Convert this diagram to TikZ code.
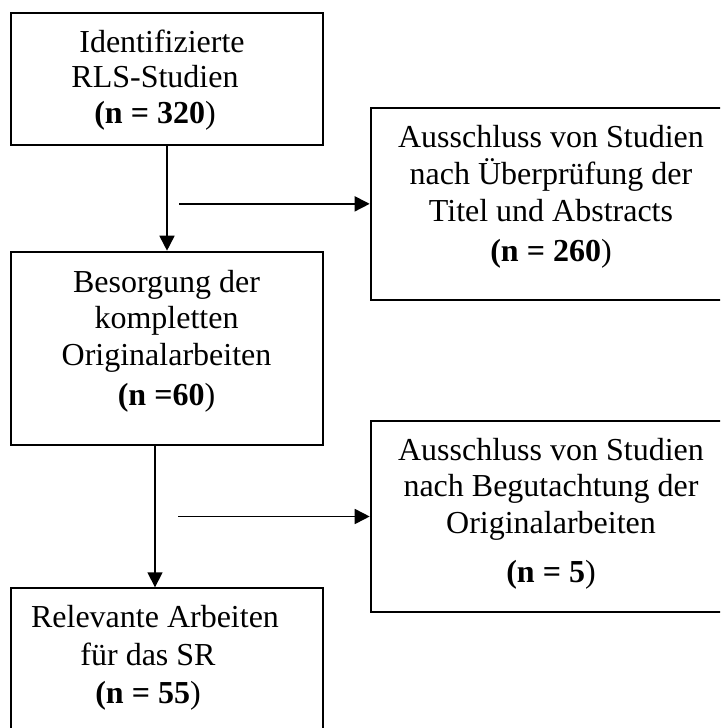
\documentclass[tikz,border=0pt]{standalone}
\usepackage{fontspec}
\setmainfont{Liberation Serif}
\usetikzlibrary{arrows.meta}
\begin{document}
\begin{tikzpicture}[x=1pt,y=-1pt,
  box/.style={draw=black,line width=2pt,rectangle,inner sep=0pt},
  txt/.style={align=center,anchor=base,inner sep=0pt},
  arr/.style={draw=black,line width=1.7pt,-{Triangle[length=15pt,width=15pt]}}]
\useasboundingbox (0,0) rectangle (720,728);
\clip (0,0) rectangle (720,728);
% boxes
\node[box,minimum width=312pt,minimum height=132.3pt] (b1) at (167,78.85) {};
\node[box,minimum width=360.3pt,minimum height=192.3pt] (b2) at (550.85,203.85) {};
\node[box,minimum width=312pt,minimum height=193.3pt] (b3) at (167,348.35) {};
\node[box,minimum width=360.3pt,minimum height=191pt] (b4) at (550.85,516.5) {};
\node[box,minimum width=312pt,minimum height=160pt] (b5) at (167,668.3) {};
% texts
\node[txt,font=\fontsize{32}{35.5}\selectfont] (t1) at (155,123.3)
  {Identifizierte\hspace*{-14pt}\\RLS-Studien\\\textbf{(n = 320}) };
\node[txt,font=\fontsize{32}{37}\selectfont] (t2) at (551,261.7)
  {Ausschluss von Studien\\nach Überprüfung der\\Titel und Abstracts\\[3pt]\textbf{(n = 260})};
\node[txt,font=\fontsize{32}{36.5}\selectfont] (t3) at (166.5,405.7)
  {Besorgung der\\kompletten\\Originalarbeiten\\[4pt]\textbf{(n =60})};
\node[txt,font=\fontsize{32}{36.5}\selectfont] (t4) at (551,582.7)
  {Ausschluss von Studien\\nach Begutachtung der\\Originalarbeiten\\[13pt]\textbf{(n = 5})};
\node[txt,font=\fontsize{32}{38}\selectfont] (t5) at (148,703)
  {Relevante Arbeiten\hspace*{-14pt}\\für das SR\\\textbf{(n = 55})};
% connectors
\coordinate (c1) at (179,203.85);
\coordinate (c2) at (178,516.5);
\coordinate (x2) at (155,0);
\draw[arr] (b1.south) -- (b3.north);
\draw[arr] (c1) -- (b2.west);
\draw[arr] (x2 |- b3.south) -- (x2 |- b5.north);
\draw[arr] (c2) -- (b4.west);
\end{tikzpicture}
\end{document}
